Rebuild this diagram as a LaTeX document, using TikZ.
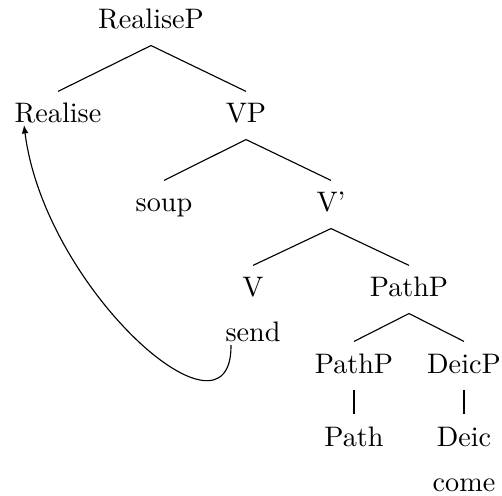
\documentclass[tikz,border=0pt]{standalone}
\usetikzlibrary{arrows.meta,calc}
\begin{document}
\begin{tikzpicture}[x=0.3546pt,y=-0.3546pt,
  lab/.style={anchor=base,inner sep=0pt,text height=11pt,text depth=5.67pt},
  edge/.style={line width=0.4pt},
  move/.style={line width=0.4pt,-{Latex[length=3pt,width=2.4pt]}}]
\useasboundingbox (0,0) rectangle (502,496);
\node[lab] (rp)    at (151,29)  {RealiseP};
\node[lab] (re)    at (58,123)  {Realise};
\node[lab] (vp)    at (246,123) {VP};
\node[lab] (soup)  at (164,212) {soup};
\node[lab] (vbar)  at (331,212) {V'};
\node[lab] (v)     at (253,297) {V};
\node[lab] (pp)    at (409,297) {PathP};
\node[lab] (send)  at (253,342) {send};
\node[lab] (pp2)   at (354,373) {PathP};
\node[lab] (dp)    at (464,373) {DeicP};
\node[lab] (path)  at (354,446) {Path};
\node[lab] (deic)  at (464,446) {Deic};
\node[lab] (come)  at (464,491) {come};
\draw[edge] (re.north) -- (rp.south) -- (vp.north);
\draw[edge] (soup.north) -- (vp.south) -- (vbar.north);
\draw[edge] (v.north) -- (vbar.south) -- (pp.north);
\draw[edge] (pp2.north) -- (pp.south) -- (dp.north);
\draw[edge] (pp2.south) -- (path.north);
\draw[edge] (dp.south) -- (deic.north);
\coordinate (s0) at ($(send.base)+(-22,3)$);
\coordinate (s1) at ($(re.base)+(-34,2)$);
\draw[move] (s0) .. controls (232,455) and (45,290) .. (s1);
\end{tikzpicture}
\end{document}
